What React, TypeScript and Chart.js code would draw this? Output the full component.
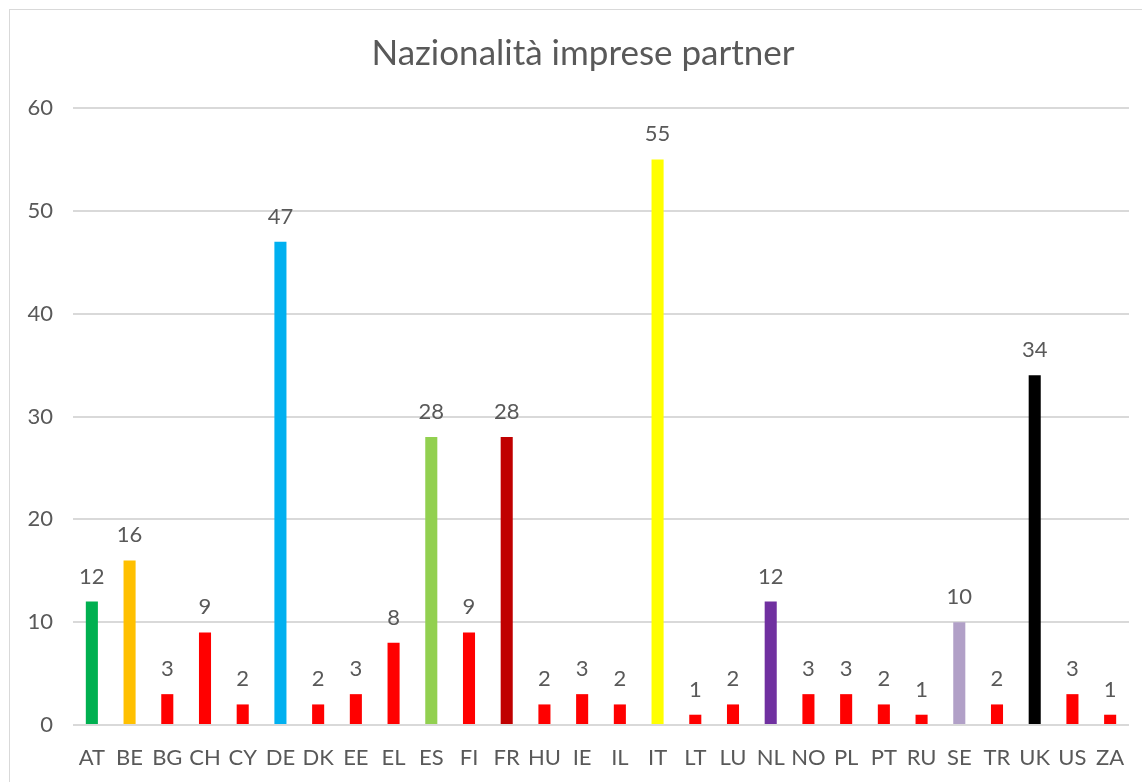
import React, { useEffect, useRef } from "react";
import { Chart, registerables } from "chart.js";

Chart.register(...registerables);

const TITLE = "Nazionalità imprese partner";
const categories = ["AT","BE","BG","CH","CY","DE","DK","EE","EL","ES","FI","FR","HU","IE","IL","IT","LT","LU","NL","NO","PL","PT","RU","SE","TR","UK","US","ZA"];
const values = [12,16,3,9,2,47,2,3,8,28,9,28,2,3,2,55,1,2,12,3,3,2,1,10,2,34,3,1];
const barColors = ["#00b050","#ffc000","#ff0000","#ff0000","#ff0000","#00b0f0","#ff0000","#ff0000","#ff0000","#92d050","#ff0000","#c00000","#ff0000","#ff0000","#ff0000","#ffff00","#ff0000","#ff0000","#7030a0","#ff0000","#ff0000","#ff0000","#ff0000","#b1a0c7","#ff0000","#000000","#ff0000","#ff0000"];
const yTicks = [0, 10, 20, 30, 40, 50, 60];

const FONT = "Lato, 'Open Sans', sans-serif";
const TEXT = "#595959";

const decorPlugin = {
  id: "decor",
  beforeDraw(chart: any) {
    const ctx = chart.ctx;
    ctx.save();
    ctx.fillStyle = "#ffffff";
    ctx.fillRect(0, 0, chart.width, chart.height);
    ctx.strokeStyle = "#d9d9d9";
    ctx.lineWidth = 1;
    ctx.strokeRect(9.5, 9.5, 1300, 1000);
    ctx.fillStyle = TEXT;
    ctx.font = `35px ${FONT}`;
    ctx.textAlign = "center";
    ctx.textBaseline = "alphabetic";
    ctx.fillText(TITLE, 583, 65);
    ctx.restore();
  },
  afterDatasetsDraw(chart: any) {
    const ctx = chart.ctx;
    const meta = chart.getDatasetMeta(0);
    ctx.save();
    ctx.fillStyle = TEXT;
    ctx.font = `22px ${FONT}`;
    ctx.textAlign = "center";
    ctx.textBaseline = "alphabetic";
    meta.data.forEach((bar: any, i: number) => {
      ctx.fillText(String(values[i]), bar.x, bar.y - 18);
    });
    ctx.restore();
  },
};

export default function App() {
  const ref = useRef<HTMLCanvasElement | null>(null);
  useEffect(() => {
    if (!ref.current) return;
    const chart = new Chart(ref.current, {
      type: "bar",
      data: {
        labels: categories,
        datasets: [
          {
            data: values,
            backgroundColor: barColors,
            borderWidth: 0,
            categoryPercentage: 1,
            barPercentage: 0.32,
          },
        ],
      },
      options: {
        responsive: false,
        animation: false,
        devicePixelRatio: 1,
        layout: { padding: { left: 10, right: 13, top: 108, bottom: 0 } },
        plugins: {
          legend: { display: false },
          title: { display: false },
          tooltip: { enabled: false },
        },
        scales: {
          x: {
            grid: { display: false },
            border: { display: false },
            ticks: {
              color: TEXT,
              font: { family: FONT, size: 22 },
              padding: 12,
              maxRotation: 0,
              autoSkip: false,
            },
            afterFit: (scale: any) => {
              scale.height = 57;
            },
          },
          y: {
            min: 0,
            max: 60,
            afterBuildTicks: (scale: any) => {
              scale.ticks = yTicks.map((v) => ({ value: v }));
            },
            grid: { color: "#d9d9d9", lineWidth: 2, drawTicks: false },
            border: { display: false },
            ticks: {
              color: TEXT,
              font: { family: FONT, size: 22 },
              padding: 20,
            },
            afterFit: (scale: any) => {
              scale.width = 63;
            },
          },
        },
      },
      plugins: [decorPlugin],
    });
    return () => chart.destroy();
  }, []);
  return (
    <div style={{ position: "fixed", left: 0, top: 0, width: 1142, height: 782 }}>
      <canvas ref={ref} width={1142} height={782} style={{ display: "block" }} />
    </div>
  );
}
